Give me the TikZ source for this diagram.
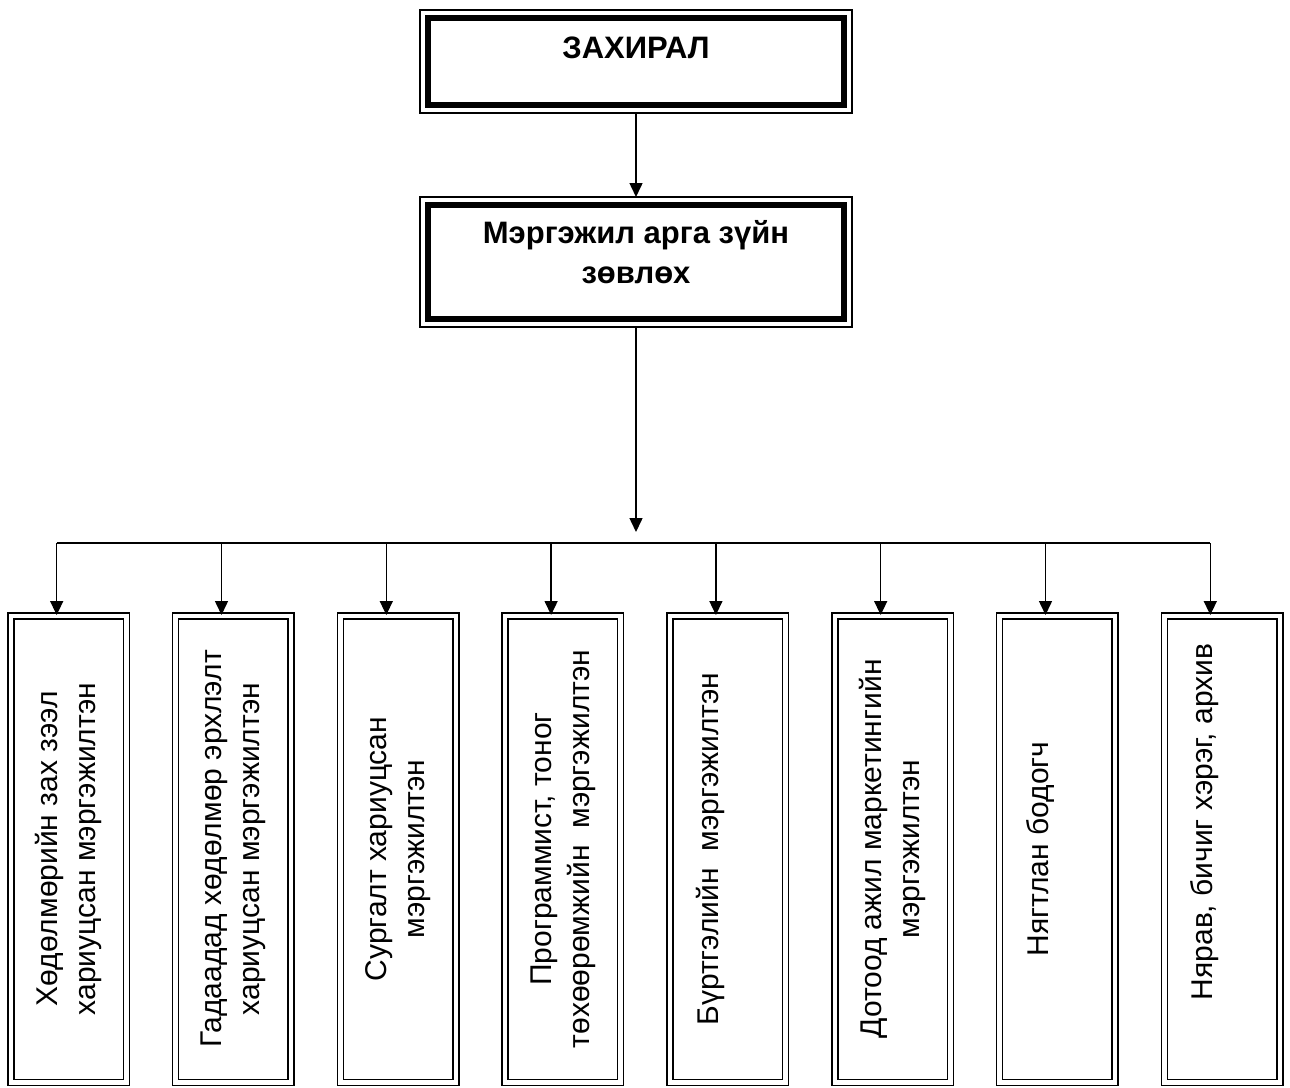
\documentclass[tikz,border=0pt]{standalone}
\usepackage{fontspec}
\setmainfont{Liberation Sans}
\usetikzlibrary{arrows.meta,fit,positioning}

\begin{document}
\begin{tikzpicture}[
    x=1pt, y=-1pt,
    headframe/.style={draw, line width=6.5pt, outer sep=0pt, minimum width=416pt},
    rim/.style={draw, line width=1.5pt, outer sep=0pt, inner sep=8pt},
    headtext/.style={font=\fontsize{31pt}{40pt}\selectfont\bfseries, align=center},
    unit/.style={draw, line width=1.5pt, double, double distance=4.5pt,
                 minimum width=115.5pt, minimum height=466.5pt},
    unittext/.style={rotate=90, font=\fontsize{30pt}{38pt}\selectfont, align=center},
    feed/.style={line width=1.5pt, -{Triangle[width=13pt,length=14pt]}}
  ]
  \useasboundingbox (0,0) rectangle (1290,1087);

  % Head boxes
  \node[headframe, minimum height=87pt] (dir) at (636,61.5) {};
  \node[rim, fit=(dir)] (dirrim) {};
  \node[headtext] (dirtxt) at ([yshift=14pt]dir.center) {ЗАХИРАЛ};

  \node[headframe, minimum height=114pt] (adv) at (636,262) {};
  \node[rim, fit=(adv)] (advrim) {};
  \node[headtext] (advtxt) at ([yshift=10pt]adv.center) {Мэргэжил арга зүйн\\зөвлөх};

  % Specialists
  \foreach \i/\txt/\dx/\dy in {
      1/{Хөдөлмөрийн зах зээл\\хариуцсан мэргэжилтэн}/0pt/0pt,
      2/{Гадаадад хөдөлмөр эрхлэлт\\хариуцсан мэргэжилтэн}/0pt/0pt,
      3/{Сургалт хариуцсан\\мэргэжилтэн}/0pt/0pt,
      4/{Программист, тоног\\төхөөрөмжийн\ \ мэргэжилтэн}/0pt/0pt,
      5/{Бүртгэлийн\ \ мэргэжилтэн}/-17pt/0pt,
      6/{Дотоод ажил маркетингийн\\мэргэжилтэн}/0pt/0pt,
      7/{Нягтлан бодогч}/-17pt/0pt,
      8/{Нярав, бичиг хэрэг, архив}/-18pt/27pt}{
    \node[unit] (u\i) at ({68.5+164.8*(\i-1)},849) {};
    \node[unittext] (ut\i) at ([xshift=\dx, yshift=\dy]u\i.center) {\txt};
    \coordinate (t\i) at ({56.7+164.8*(\i-1)},543);
  }

  % Edges
  \coordinate (hub) at (636,532);
  \draw[feed] (dirrim.south) -- (advrim.north);
  \draw[feed] (advrim.south) -- (hub);
  \draw[line width=1.5pt] (t1) -- (t8);
  \foreach \i in {1,...,8}
    \draw[feed] (t\i) -- (t\i |- u\i.north);

\end{tikzpicture}
\end{document}
